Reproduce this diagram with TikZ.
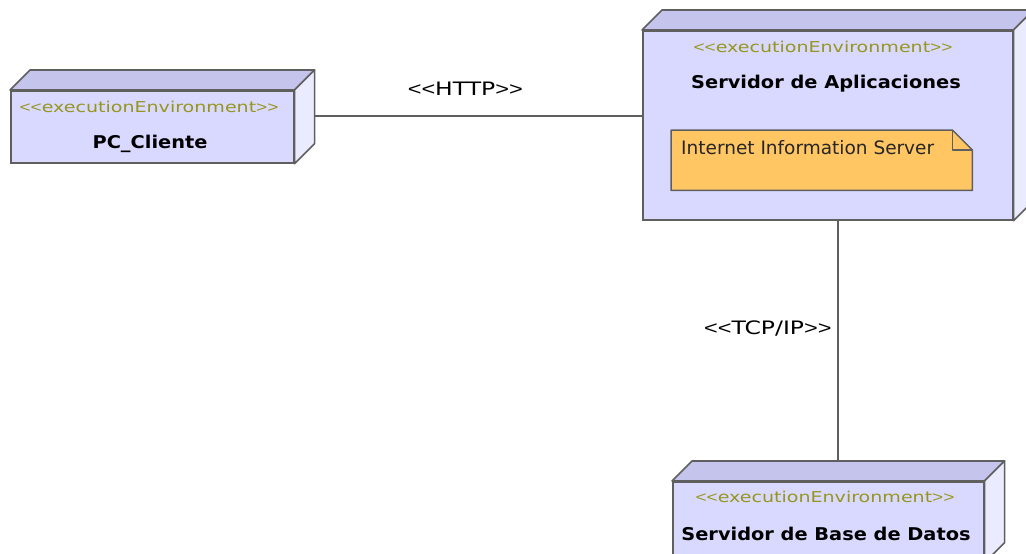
\documentclass[tikz,border=0pt]{standalone}
\usepackage{fontspec}
\setmainfont{DejaVu Sans}
\newfontfamily\umlfont[FakeStretch=1.27]{DejaVu Sans}
\newfontfamily\namefont[FakeStretch=1.1]{DejaVu Sans}
\newfontfamily\anglefont[FakeStretch=1.27]{Liberation Sans}
\newfontfamily\notefont{DejaVu Sans}
\newcommand{\stype}[1]{{\anglefont<<}#1{\anglefont>>}}
\usepackage{xcolor}
\definecolor{facefront}{RGB}{217,217,255}
\definecolor{facetop}{RGB}{196,196,236}
\definecolor{faceside}{RGB}{235,235,255}
\definecolor{edgegray}{RGB}{95,95,95}
\definecolor{stereo}{RGB}{150,150,30}
\definecolor{notefill}{RGB}{255,198,99}

\newcommand{\envdepth}[1]{%
    \draw [depth,fill=facetop] (#1.north west) -- ++(20,-20)
	-- ([shift={(20,-20)}]#1.north east) -- (#1.north east) -- cycle;
    \draw [depth,fill=faceside] (#1.north east)
	-- ([shift={(20,-20)}]#1.north east)
	-- ([shift={(20,-20)}]#1.south east) -- (#1.south east) -- cycle;}

\begin{document}
\begin{tikzpicture}[x=1pt,y=-1pt,
    envbox/.style={draw=edgegray,line width=1.6pt,fill=facefront,
	anchor=north west,inner sep=0pt},
    depth/.style={draw=edgegray,line width=1.6pt,line join=round},
    stereotype/.style={text=stereo,inner sep=0pt,
	font=\umlfont\fontsize{15}{18}\selectfont},
    envname/.style={inner sep=0pt,
	font=\namefont\bfseries\fontsize{17.6}{20}\selectfont},
    link/.style={draw=edgegray,line width=1.8pt},
    linklabel/.style={inner sep=0pt,font=\umlfont\fontsize{18.5}{22}\selectfont},
    notebox/.style={anchor=north west,inner sep=0pt},
    noteline/.style={draw=edgegray,line width=1.5pt,line join=round},
    notetext/.style={inner sep=0pt,text=black!85,
	font=\notefont\fontsize{18.5}{22}\selectfont}]
    \useasboundingbox (0,0) rectangle (1026,554);
    \clip (0,0) rectangle (1026,554);

    \path (10,90) node [envbox,minimum width=283pt,minimum height=72pt] (pc) {};
    \envdepth{pc}
    \path (149,107) node [stereotype] (pcst) {\stype{executionEnvironment}};
    \path (150,144) node [envname] (pcname) {PC\_Cliente};

    \path (642,30) node [envbox,minimum width=370pt,minimum height=189pt] (as) {};
    \envdepth{as}
    \path (823,47) node [stereotype] (asst) {\stype{executionEnvironment}};
    \path (826,84) node [envname] (asname) {Servidor de Aplicaciones};

    \path (671,130) node [notebox,minimum width=301pt,minimum height=60pt]
	(iisbox) {};
    \draw [noteline,fill=notefill] (iisbox.north west)
	-- ([xshift=-20pt]iisbox.north east)
	-- ([yshift=-20pt]iisbox.north east)
	-- (iisbox.south east) -- (iisbox.south west) -- cycle;
    \draw [noteline] ([xshift=-20pt]iisbox.north east)
	|- ([yshift=-20pt]iisbox.north east);
    \path (681,148) node [notetext,anchor=west] (iis)
	{Internet Information Server};

    \path (672,481) node [envbox,minimum width=311pt,minimum height=80pt] (db) {};
    \envdepth{db}
    \path (825,497) node [stereotype] (dbst) {\stype{executionEnvironment}};
    \path (826,534) node [envname] (dbname) {Servidor de Base de Datos};

    \coordinate (pcport) at ([xshift=20pt,yshift=11pt]pc.east);
    \draw [link] (pcport) -- (pcport -| as.west)
	node[midway,linklabel,xshift=-13pt,yshift=27pt] (http) {\stype{HTTP}};
    \coordinate (dbport) at ([xshift=9.5pt,yshift=19pt]db.north);
    \draw [link] (dbport |- as.south) -- (dbport)
	node[midway,linklabel,xshift=-70pt,yshift=13pt] (tcp) {\stype{TCP/IP}};
\end{tikzpicture}
\end{document}
